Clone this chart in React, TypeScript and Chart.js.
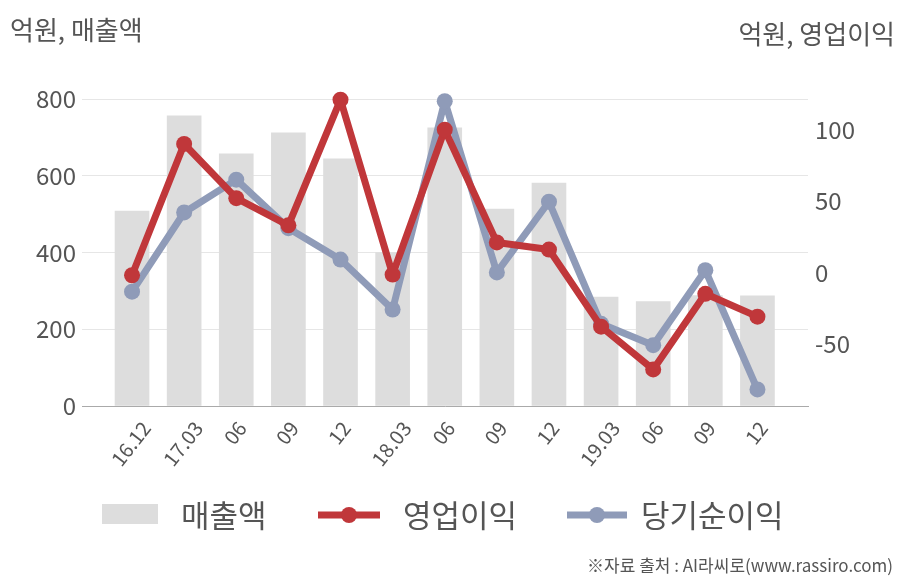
import React, { useEffect, useRef } from "react";
import { Chart, registerables } from "chart.js";
Chart.register(...registerables);

const categories = ["16.12", "17.03", "06", "09", "12", "18.03", "06", "09", "12", "19.03", "06", "09", "12"];
const revenue = [508, 756, 657, 712, 644, 400, 725, 513, 581, 284, 272, 288, 287];
const opProfit = [-2, 90, 52, 33, 121, -1.5, 100, 21, 16, -38, -68, -15, -31];
const netProfit = [-13.5, 42, 65, 31, 9, -26, 120, 0, 49.5, -36, -51, 1.5, -82];
const leftTicks = [0, 200, 400, 600, 800];
const rightTicks = [-50, 0, 50, 100];

const FONT = '"Noto Sans CJK KR", "Noto Sans", sans-serif';
const RED = "#c0373a";
const BLUE = "#8f9bb8";
const GRAY = "#dddddd";
const TEXT = "#555555";

const overlay = {
  id: "overlay",
  afterDraw(chart: any) {
    const ctx = chart.ctx;
    ctx.save();
    ctx.fillStyle = TEXT;
    ctx.textBaseline = "middle";
    ctx.font = `26px ${FONT}`;
    ctx.textAlign = "left";
    ctx.fillText("억원, 매출액", 10, 30);
    ctx.textAlign = "right";
    ctx.fillText("억원, 영업이익", 895, 34);

    // rotated x labels (bounding box centred under each tick)
    const xs = chart.scales.x;
    const fs = 20;
    const theta = (52 * Math.PI) / 180;
    ctx.font = `${fs}px ${FONT}`;
    ctx.textAlign = "center";
    ctx.textBaseline = "middle";
    categories.forEach((lab, i) => {
      const px = xs.getPixelForValue(i);
      const L = ctx.measureText(lab).width;
      const h = fs * 0.72;
      const bh = L * Math.sin(theta) + h * Math.cos(theta);
      const cx = px - 2;
      const cy = 419 + bh / 2;
      ctx.save();
      ctx.translate(cx, cy);
      ctx.rotate(-theta);
      ctx.fillStyle = TEXT;
      ctx.fillText(lab, 0, 1);
      ctx.restore();
    });

    // legend
    const ly = 515;
    ctx.fillStyle = GRAY;
    ctx.fillRect(102, 504, 56, 20);
    ctx.font = `31px ${FONT}`;
    ctx.textAlign = "left";
    ctx.textBaseline = "middle";
    ctx.fillStyle = TEXT;
    ctx.fillText("매출액", 181, ly);

    const lineItem = (x1: number, x2: number, color: string, tx: number, label: string) => {
      ctx.strokeStyle = color;
      ctx.lineWidth = 7;
      ctx.beginPath();
      ctx.moveTo(x1, ly);
      ctx.lineTo(x2, ly);
      ctx.stroke();
      ctx.fillStyle = color;
      ctx.beginPath();
      ctx.arc((x1 + x2) / 2, ly, 8, 0, Math.PI * 2);
      ctx.fill();
      ctx.fillStyle = TEXT;
      ctx.fillText(label, tx, ly);
    };
    lineItem(318, 380, RED, 403, "영업이익");
    lineItem(567, 627, BLUE, 641, "당기순이익");

    ctx.font = `17px ${FONT}`;
    ctx.textAlign = "right";
    ctx.fillStyle = TEXT;
    ctx.fillText("※자료 출처 : AI라씨로(www.rassiro.com)", 893, 566);
    ctx.restore();
  },
};

export default function App() {
  const ref = useRef<HTMLCanvasElement>(null);
  useEffect(() => {
    if (!ref.current) return;
    const lineBase = {
      type: "line",
      yAxisID: "y2",
      borderWidth: 7,
      pointRadius: 8,
      pointBorderWidth: 0,
      tension: 0,
      borderJoinStyle: "round",
      borderCapStyle: "round",
      clip: false,
    };
    const chart = new Chart(ref.current, {
      type: "bar",
      data: {
        datasets: [
          {
            ...lineBase,
            label: "영업이익",
            data: opProfit.map((v, i) => ({ x: i, y: v })),
            borderColor: RED,
            backgroundColor: RED,
            pointBackgroundColor: RED,
            order: 1,
          } as any,
          {
            ...lineBase,
            label: "당기순이익",
            data: netProfit.map((v, i) => ({ x: i, y: v })),
            borderColor: BLUE,
            backgroundColor: BLUE,
            pointBackgroundColor: BLUE,
            order: 2,
          } as any,
          {
            type: "bar",
            label: "매출액",
            data: revenue.map((v, i) => ({ x: i, y: v })),
            yAxisID: "y",
            backgroundColor: GRAY,
            barThickness: 34,
            order: 3,
          } as any,
        ],
      },
      options: {
        responsive: false,
        animation: false,
        devicePixelRatio: 1,
        layout: { padding: { top: 99, left: 0, right: 0, bottom: 0 } },
        plugins: { legend: { display: false }, tooltip: { enabled: false } },
        scales: {
          x: {
            type: "linear",
            offset: false,
            min: -0.96,
            max: 12.97,
            afterBuildTicks: (a: any) => {
              a.ticks = categories.map((_, i) => ({ value: i }));
            },
            afterFit: (a: any) => {
              a.height = 174;
            },
            ticks: { display: false },
            grid: { display: false, drawTicks: false },
            border: { display: true, color: "#aaaaaa", width: 1 },
          },
          y: {
            position: "left",
            min: 0,
            max: 800,
            afterBuildTicks: (a: any) => {
              a.ticks = leftTicks.map((v) => ({ value: v }));
            },
            afterFit: (a: any) => {
              a.width = 82;
            },
            ticks: { padding: 6, color: TEXT, font: { size: 24, family: FONT } },
            grid: { color: "#e6e6e6", drawTicks: false },
            border: { display: false },
          },
          y2: {
            position: "right",
            min: -93.6,
            max: 121.5,
            afterBuildTicks: (a: any) => {
              a.ticks = rightTicks.map((v) => ({ value: v }));
            },
            afterFit: (a: any) => {
              a.width = 100;
            },
            ticks: { padding: 7, color: TEXT, font: { size: 24, family: FONT } },
            grid: { display: false, drawTicks: false },
            border: { display: false },
          },
        },
      } as any,
      plugins: [overlay],
    });
    return () => chart.destroy();
  }, []);
  return (
    <div style={{ position: "fixed", left: 0, top: 0, width: 908, height: 580, background: "#fff" }}>
      <canvas ref={ref} width={908} height={580} style={{ display: "block" }} />
    </div>
  );
}
